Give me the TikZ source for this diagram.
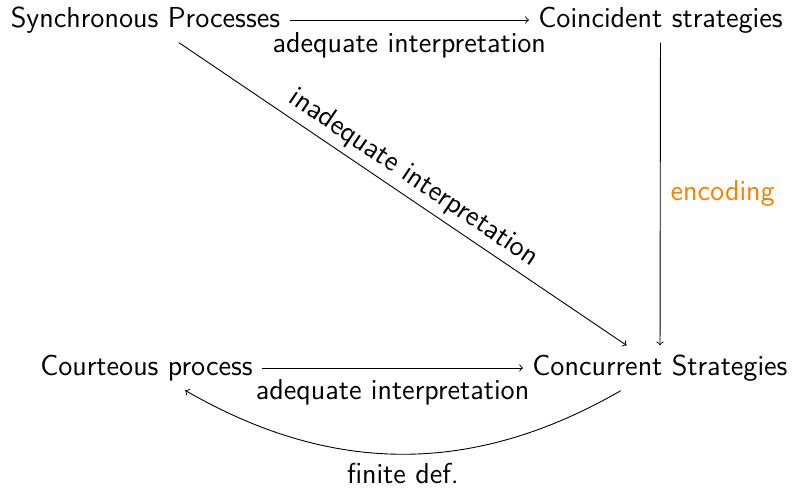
\documentclass[tikz,border=0pt]{standalone}
\tikzset{
  txt/.style={font=\sffamily\fontsize{14.4}{17}\selectfont},
  obj/.style={txt, inner sep=4.5pt},
  lab/.style={txt, inner sep=2pt},
  arr/.style={->, line width=0.45pt},
}
\begin{document}
\begin{tikzpicture}[x=0.5pt, y=-0.5pt]
\useasboundingbox (0,0) rectangle (794,488);
\node[obj] (sp) at (145.5,20) {Synchronous Processes};
\node[obj] (cst) at (660.5,20) {Coincident strategies};
\node[obj] (cp) at (146.5,368) {Courteous process};
\node[obj] (cs) at (660,368) {Concurrent Strategies};
\draw[arr] (sp) -- node[lab, below, inner sep=6pt] {adequate interpretation} (cst);
\draw[arr] (cst) -- node[lab, right, text=orange, inner sep=5pt] {encoding} (cs);
\draw[arr] (sp) -- node[lab, sloped, above, inner sep=3pt] {inadequate interpretation} (cs);
\draw[arr] (cp) -- node[lab, below, inner sep=5.5pt] {adequate interpretation} (cs);
\draw[arr] (cs) to[bend left=30] node[lab, below, inner sep=4.5pt] {finite def.} (cp);
\end{tikzpicture}
\end{document}
